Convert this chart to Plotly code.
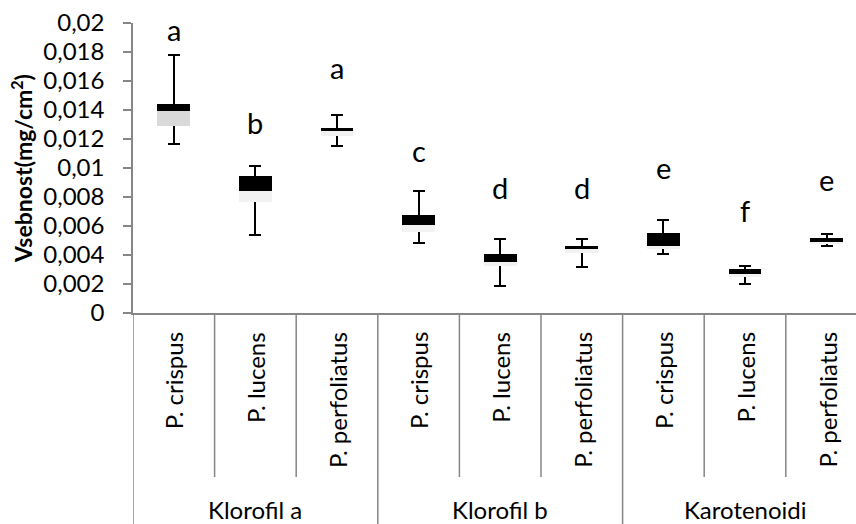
import numpy as np
import plotly.graph_objects as go

# Pigment groups and species (one box per species within each pigment group)
groups = ["Klorofil a", "Klorofil b", "Karotenoidi"]
species = ["P. crispus", "P. lucens", "P. perfoliatus"]

# Box statistics (mg/cm2), in order: group x species
whisker_min = [0.01165, 0.00539, 0.01149, 0.00486, 0.00189, 0.00319, 0.00408, 0.00202, 0.00463]
quart_1 = [0.01291, 0.00764, 0.01222, 0.00562, 0.00326, 0.00411, 0.00440, 0.00248, 0.00479]
median = [0.01394, 0.00842, 0.01257, 0.00607, 0.00352, 0.00440, 0.00465, 0.00266, 0.00491]
quart_3 = [0.01440, 0.00947, 0.01275, 0.00674, 0.00408, 0.00462, 0.00553, 0.00302, 0.00514]
whisker_max = [0.01776, 0.01016, 0.01363, 0.00842, 0.00512, 0.00512, 0.00643, 0.00323, 0.00548]

# Significance letters and their baseline heights
sig_letters = ["a", "b", "a", "c", "d", "d", "e", "f", "e"]
sig_y = [0.01867, 0.01227, 0.01606, 0.01032, 0.00780, 0.00780, 0.00917, 0.00619, 0.00837]

# Y axis ticks
y_tickvals = [0, 0.002, 0.004, 0.006, 0.008, 0.01, 0.012, 0.014, 0.016, 0.018, 0.02]
y_ticktext = ["0", "0,002", "0,004", "0,006", "0,008", "0,01", "0,012", "0,014", "0,016", "0,018", "0,02"]

FONT = "Lato"
AXIS_GRAY = "#868686"
lower_fill = ["#d9d9d9"] + ["#f2f2f2"] * 8

n = len(groups) * len(species)
xpos = np.arange(n)
q1 = np.array(quart_1)
med = np.array(median)
q3 = np.array(quart_3)
lo = np.array(whisker_min)
hi = np.array(whisker_max)

fig = go.Figure()

# Invisible carrier bar (0..Q1) holding the whiskers; later boxes cover the
# part of the whisker line that runs through the box.
fig.add_trace(go.Bar(
    x=xpos, y=q1, width=0.4,
    marker=dict(color="rgba(0,0,0,0)", line=dict(width=0)),
    error_y=dict(type="data", symmetric=False, array=hi - q1, arrayminus=q1 - lo,
                 color="black", thickness=2, width=6),
    hoverinfo="skip", showlegend=False,
))
# Lower half of the box (Q1..median)
fig.add_trace(go.Bar(
    x=xpos, y=med - q1, base=q1, width=0.4,
    marker=dict(color=lower_fill, line=dict(width=0)),
    showlegend=False,
))
# Upper half of the box (median..Q3)
fig.add_trace(go.Bar(
    x=xpos, y=q3 - med, base=med, width=0.4,
    marker=dict(color="black", line=dict(width=0)),
    showlegend=False,
))

annotations = []
for i, (t, yv) in enumerate(zip(sig_letters, sig_y)):
    annotations.append(dict(x=i, y=yv, xref="x", yref="y", text=t, showarrow=False,
                            yanchor="bottom", yshift=-7,
                            font=dict(family=FONT, size=29, color="black")))

# Category labels: species (rotated) and pigment groups
plot_h = 524 - 23 - 211
def px_to_paper(py):
    return (524 - 211 - py) / plot_h

for gi, g in enumerate(groups):
    for si, s in enumerate(species):
        idx = gi * len(species) + si
        annotations.append(dict(x=idx, y=px_to_paper(330), xref="x", yref="paper",
                                text=s, textangle=-90, showarrow=False,
                                xanchor="center", yanchor="top",
                                font=dict(family=FONT, size=24, color="black")))
    annotations.append(dict(x=gi * 3 + 1, y=px_to_paper(509), xref="x", yref="paper",
                            text=g, showarrow=False, xanchor="center", yanchor="middle",
                            font=dict(family=FONT, size=24, color="black")))

# Divider lines below the category axis
shapes = []
for k in range(1, n + 1):
    bottom = px_to_paper(524) if k % 3 == 0 else px_to_paper(477)
    shapes.append(dict(type="line", xref="x", yref="paper", x0=k - 0.5, x1=k - 0.5,
                       y0=0, y1=bottom, line=dict(color=AXIS_GRAY, width=1.5)))
shapes.append(dict(type="line", xref="x", yref="paper", x0=-0.5, x1=-0.5,
                   y0=0, y1=px_to_paper(524), line=dict(color=AXIS_GRAY, width=1.5)))

fig.update_layout(
    width=856, height=524,
    margin=dict(l=133, r=0, t=23, b=211),
    paper_bgcolor="white", plot_bgcolor="white",
    barmode="overlay", bargap=0,
    showlegend=False,
    font=dict(family=FONT, color="black"),
    annotations=annotations,
    shapes=shapes,
    xaxis=dict(range=[-0.5, -0.5 + 723 / 81.6], showticklabels=False, ticks="",
               showgrid=False, zeroline=False, showline=True, linecolor=AXIS_GRAY,
               linewidth=1.5),
    yaxis=dict(range=[0, 0.02], tickvals=y_tickvals, ticktext=y_ticktext,
               ticks="outside", ticklen=8, tickwidth=1.5, tickcolor=AXIS_GRAY,
               ticklabelstandoff=14,
               showgrid=False, zeroline=False, showline=True, linecolor=AXIS_GRAY,
               linewidth=1.5, tickfont=dict(family=FONT, size=24, color="black"),
               title=dict(text="<b>Vsebnost(mg/cm<sup>2</sup>)</b>",
                          font=dict(family=FONT, size=23, color="black"), standoff=4)),
)

fig.write_html("out.html")
